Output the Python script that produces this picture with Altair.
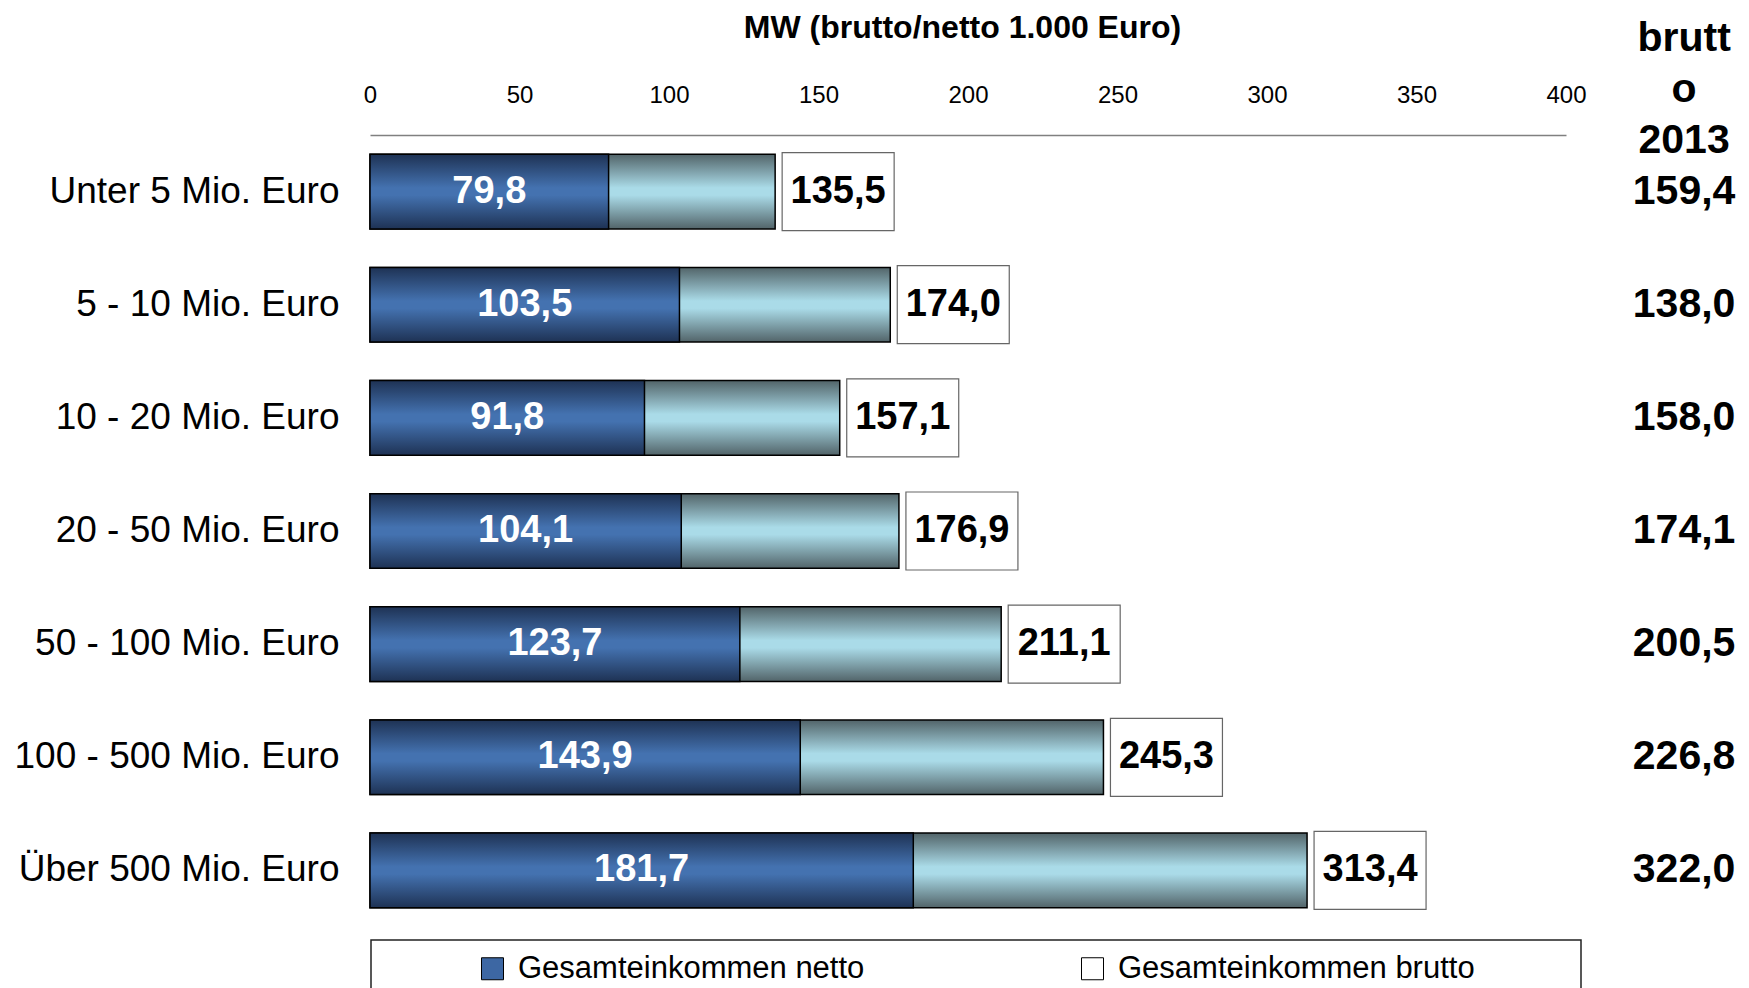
import altair as alt
import pandas as pd

categories = [
    "Unter 5 Mio. Euro",
    "5 - 10 Mio. Euro",
    "10 - 20 Mio. Euro",
    "20 - 50 Mio. Euro",
    "50 - 100 Mio. Euro",
    "100 - 500 Mio. Euro",
    "Über 500 Mio. Euro",
]
netto = [79.8, 103.5, 91.8, 104.1, 123.7, 143.9, 181.7]
brutto = [135.5, 174.0, 157.1, 176.9, 211.1, 245.3, 313.4]
brutto_2013 = [159.4, 138.0, 158.0, 174.1, 200.5, 226.8, 322.0]

x_ticks = [0, 50, 100, 150, 200, 250, 300, 350, 400]
series_names = ["Gesamteinkommen netto", "Gesamteinkommen brutto"]
col_header = "brutt\no\n2013"
x_title = "MW (brutto/netto 1.000 Euro)"

# layout constants (pixels)
PLOT_W = 1196
PLOT_H = 792
X_MAX = 400
BOX_PX = 112
BOX_GAP = 7
COL_X = 439.5  # data-space x of the right-hand 2013 column

FONT = "Liberation Sans"

df = pd.DataFrame({
    "cat": categories,
    "netto": netto,
    "brutto": brutto,
    "b2013": brutto_2013,
})

base = alt.Chart(df).transform_calculate(
    netto_half="datum.netto / 2",
    box_end=f"datum.brutto + {BOX_PX * X_MAX / PLOT_W}",
    netto_lbl="replace(format(datum.netto, '.1f'), '.', ',')",
    brutto_lbl="replace(format(datum.brutto, '.1f'), '.', ',')",
    b2013_lbl="replace(format(datum.b2013, '.1f'), '.', ',')",
)

y_enc = alt.Y(
    "cat:N",
    sort=categories,
    scale=alt.Scale(paddingInner=0.34, paddingOuter=0.17),
    axis=alt.Axis(
        title=None,
        labelFont=FONT,
        labelFontSize=37,
        labelColor="black",
        labelPadding=31,
        ticks=False,
        domain=False,
        labelLimit=400,
    ),
)

x_scale = alt.Scale(domain=[0, X_MAX], nice=False)

x_axis = alt.Axis(
    orient="top",
    values=x_ticks,
    title=x_title,
    titleFont=FONT,
    titleFontSize=32,
    titleFontWeight="bold",
    titleColor="black",
    titleX=592,
    titleY=-98,
    titleBaseline="alphabetic",
    labelFont=FONT,
    labelFontSize=24,
    labelColor="black",
    labelPadding=28,
    ticks=False,
    tickSize=0,
    grid=False,
    domainColor="#808080",
    domainWidth=1.5,
    labelFlush=False,
)

grad_dark = alt.Gradient(
    gradient="linear",
    stops=[
        alt.GradientStop(offset=0, color="#1e3254"),
        alt.GradientStop(offset=0.45, color="#4472b0"),
        alt.GradientStop(offset=0.55, color="#4472b0"),
        alt.GradientStop(offset=1, color="#1e3254"),
    ],
    x1=0, x2=0, y1=0, y2=1,
)
grad_light = alt.Gradient(
    gradient="linear",
    stops=[
        alt.GradientStop(offset=0, color="#526469"),
        alt.GradientStop(offset=0.45, color="#aadbe8"),
        alt.GradientStop(offset=0.55, color="#aadbe8"),
        alt.GradientStop(offset=1, color="#526469"),
    ],
    x1=0, x2=0, y1=0, y2=1,
)

brutto_bar = base.mark_bar(fill=grad_light, stroke="black", strokeWidth=1.5).encode(
    x=alt.X("brutto:Q", scale=x_scale, axis=x_axis),
    y=y_enc,
)

netto_bar = base.mark_bar(fill=grad_dark, stroke="black", strokeWidth=1.5).encode(
    x=alt.X("netto:Q", scale=x_scale),
    y=alt.Y("cat:N", sort=categories),
)

netto_text = base.mark_text(
    font=FONT, fontSize=38, fontWeight="bold", color="white",
    align="center", baseline="middle",
).encode(
    x=alt.X("netto_half:Q", scale=x_scale),
    y=alt.Y("cat:N", sort=categories),
    text="netto_lbl:N",
)

label_box = base.mark_rect(
    fill="white", stroke="#666666", strokeWidth=1.2,
    xOffset=BOX_GAP, x2Offset=BOX_GAP, height=78,
).encode(
    x=alt.X("brutto:Q", scale=x_scale),
    x2="box_end:Q",
    y=alt.Y("cat:N", sort=categories),
)

brutto_text = base.mark_text(
    font=FONT, fontSize=38, fontWeight="bold", color="black",
    align="center", baseline="middle", dx=BOX_GAP + BOX_PX / 2,
).encode(
    x=alt.X("brutto:Q", scale=x_scale),
    y=alt.Y("cat:N", sort=categories),
    text="brutto_lbl:N",
)

col_text = base.mark_text(
    font=FONT, fontSize=41, fontWeight="bold", color="black",
    align="center", baseline="middle",
).encode(
    x=alt.X(datum=COL_X, scale=x_scale),
    y=alt.Y("cat:N", sort=categories),
    text="b2013_lbl:N",
)

header = alt.Chart(pd.DataFrame({"h": [col_header]})).mark_text(
    font=FONT, fontSize=41, fontWeight="bold", color="black",
    align="center", baseline="alphabetic", lineBreak="\n", lineHeight=51,
).encode(
    x=alt.X(datum=COL_X, scale=x_scale),
    y=alt.value(-84),
    text="h:N",
)

legend_box = alt.Chart(pd.DataFrame({"b": [1]})).mark_rect(
    fill="white", fillOpacity=0, stroke="#222222", strokeWidth=1.5,
).encode(
    x=alt.value(1), x2=alt.value(1211),
    y=alt.value(805), y2=alt.value(900),
)

legend_layer = base.transform_calculate(series="'x'").transform_filter("false").mark_square(
    opacity=1, filled=True, stroke="black", strokeWidth=1,
).encode(
    x=alt.X("netto:Q", scale=x_scale),
    y=alt.Y("cat:N", sort=categories),
    color=alt.Color(
        "series:N",
        scale=alt.Scale(domain=series_names, range=["#3d67a3", "#ffffff"]),
        legend=alt.Legend(
            title=None,
            orient="none",
            legendX=107,
            legendY=818,
            direction="horizontal",
            columns=2,
            columnPadding=212,
            padding=0,
            symbolType="square",
            symbolSize=484,
            symbolStrokeColor="black",
            symbolStrokeWidth=1,
            labelFont=FONT,
            labelFontSize=31,
            labelColor="black",
            labelOffset=10,
            labelLimit=500,
        ),
    ),
)

chart = alt.layer(
    brutto_bar, netto_bar, netto_text, label_box, brutto_text,
    col_text, header, legend_box, legend_layer,
).properties(
    width=PLOT_W,
    height=PLOT_H,
    autosize=alt.AutoSizeParams(type="none"),
    padding={"left": 362, "top": 127, "right": 175, "bottom": 61},
    background="white",
).configure_view(stroke=None)

chart.save("out.html", embed_options={"renderer": "svg", "actions": False})
